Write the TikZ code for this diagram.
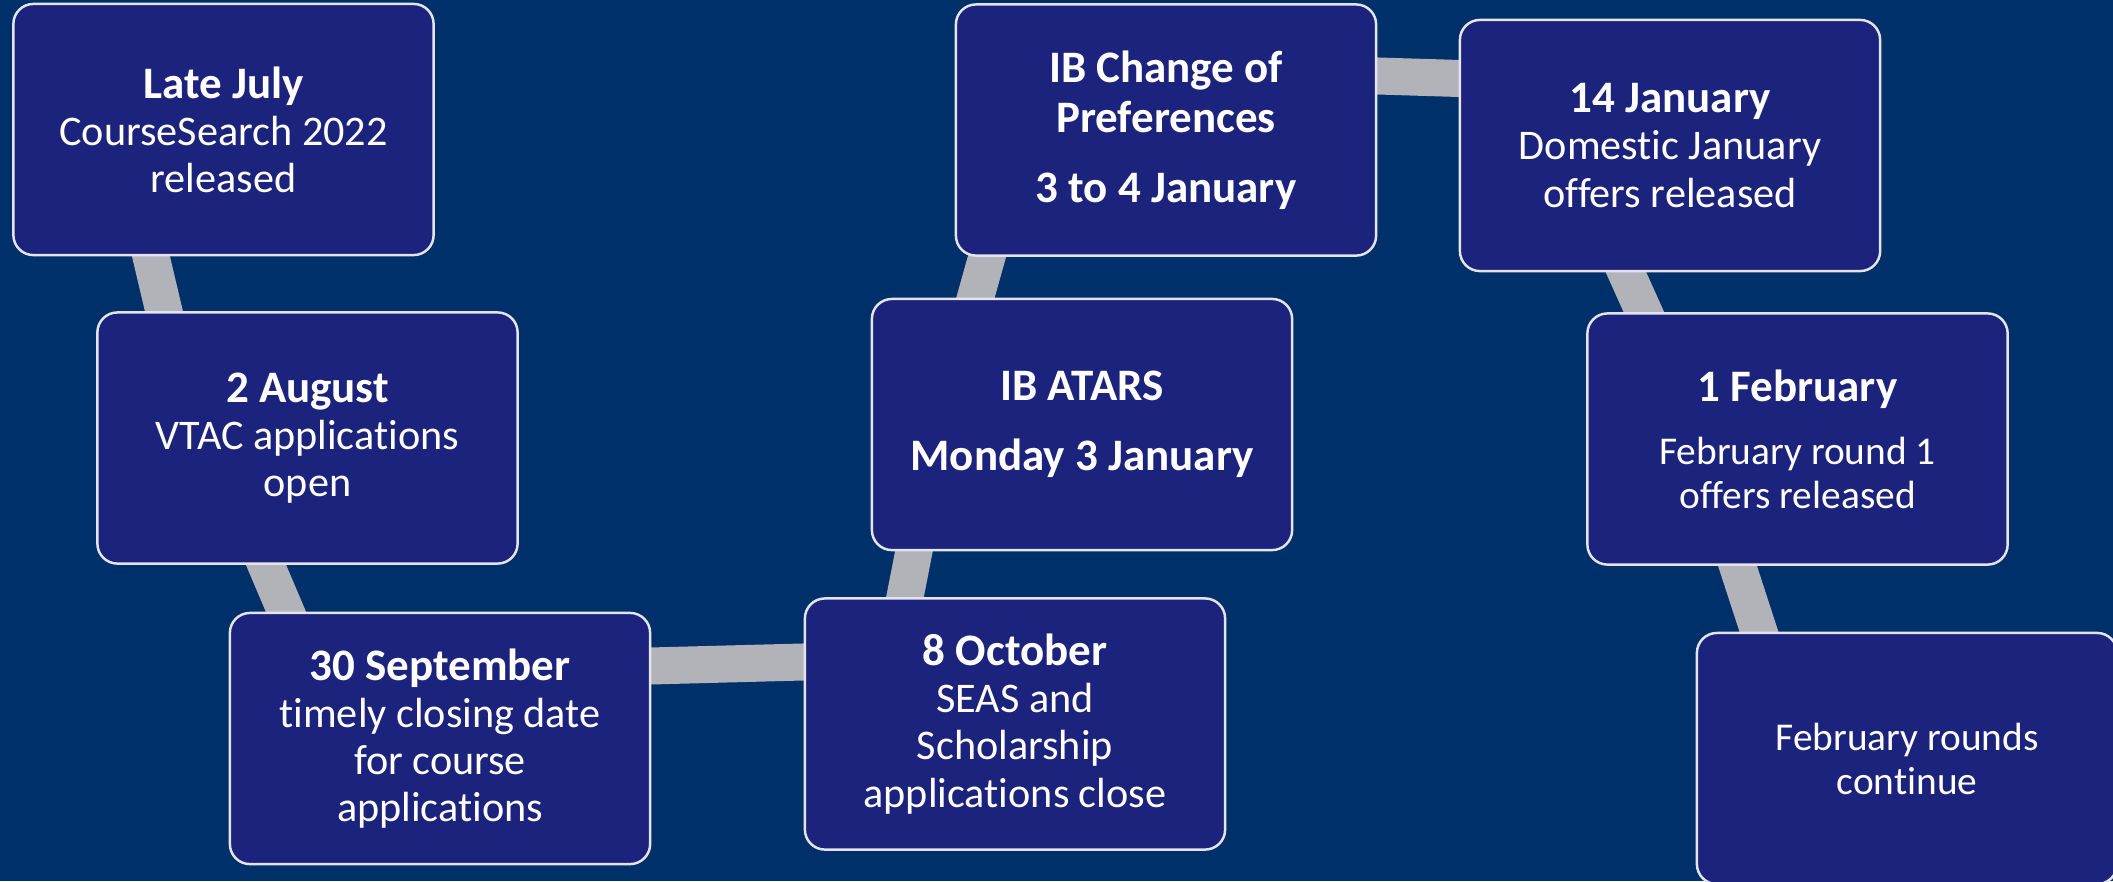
\documentclass[tikz,border=0pt]{standalone}
\usepackage{fontspec}
\setmainfont{Carlito}[Ligatures=NoCommon]
\usepackage{tikz}
\pgfdeclarelayer{back}
\pgfdeclarelayer{links}
\pgfsetlayers{back,links,main}
\definecolor{bgblue}{HTML}{00306A}
\definecolor{boxblue}{HTML}{1C237C}
\definecolor{linkgray}{HTML}{B1B3B9}
\definecolor{rimwhite}{HTML}{E4E4EC}
\newcommand{\hd}[1]{{\fontsize{12.8}{13.4}\selectfont\bfseries #1}}
\tikzset{
  event/.style={draw=rimwhite, line width=0.7pt, fill=boxblue, rounded corners=0.2cm,
    minimum width=4.2cm, minimum height=2.51cm, inner sep=0pt, align=center,
    text=white, font=\fontsize{12}{13.4}\selectfont},
  small/.style={font=\fontsize{11.2}{12.5}\selectfont},
  link/.style={draw=linkgray, line width=0.37cm, shorten <=-0.3cm, shorten >=-0.3cm}
}

\begin{document}
\begin{tikzpicture}[x=0.01cm,y=-0.01cm]
\useasboundingbox (0,0) rectangle (2113,881);
\begin{pgfonlayer}{back}
\fill[bgblue] (0,0) rectangle (2113,881);
\end{pgfonlayer}

\node[event] (july) at (223.5,129.5) {\hd{Late July}\\CourseSearch 2022\\released};
\node[event] (aug) at (307.5,438) {\hd{2 August}\\VTAC applications\\open};
\node[event] (sep) at (440,738.5) {\hd{30 September}\\timely closing date\\for course\\applications};
\node[event] (oct) at (1015,724) {\hd{8 October}\\SEAS and\\Scholarship\\applications close};
\node[event] (atar) at (1082,424.5) {\hd{IB ATARS}\\[6.6pt]\hd{Monday 3 January}};
\node[event] (pref) at (1166,130) {\hd{IB Change of}\\[0.8pt]\hd{Preferences}\\[6.6pt]\hd{3 to 4 January}};
\node[event] (jan) at (1670,145.5) {\hd{14 January}\\Domestic January\\offers released};
\node[event, small] (feb) at (1797.5,439) {\hd{1 February}\\[5.4pt]February round 1\\offers released};
\node[event, small] (more) at (1907,758.5) {February rounds\\continue};

\begin{pgfonlayer}{links}
\draw[link] ([xshift=-0.725cm]july.south) -- ([xshift=-1.435cm]aug.north);
\draw[link] ([xshift=-0.415cm]aug.south) -- ([xshift=-1.54cm]sep.north);
\draw[link] ([yshift=0.725cm]sep.east) -- ([yshift=0.62cm]oct.west);
\draw[link] ([xshift=-1.1cm]oct.north) -- ([xshift=-1.68cm]atar.south);
\draw[link] ([xshift=-1.065cm]atar.north) -- ([xshift=-1.79cm]pref.south);
\draw[link] ([yshift=0.54cm]pref.east) -- ([yshift=0.67cm]jan.west);
\draw[link] ([xshift=-0.44cm]jan.south) -- ([xshift=-1.535cm]feb.north);
\draw[link] ([xshift=-0.6cm]feb.south) -- ([xshift=-1.48cm]more.north);
\end{pgfonlayer}
\end{tikzpicture}
\end{document}
